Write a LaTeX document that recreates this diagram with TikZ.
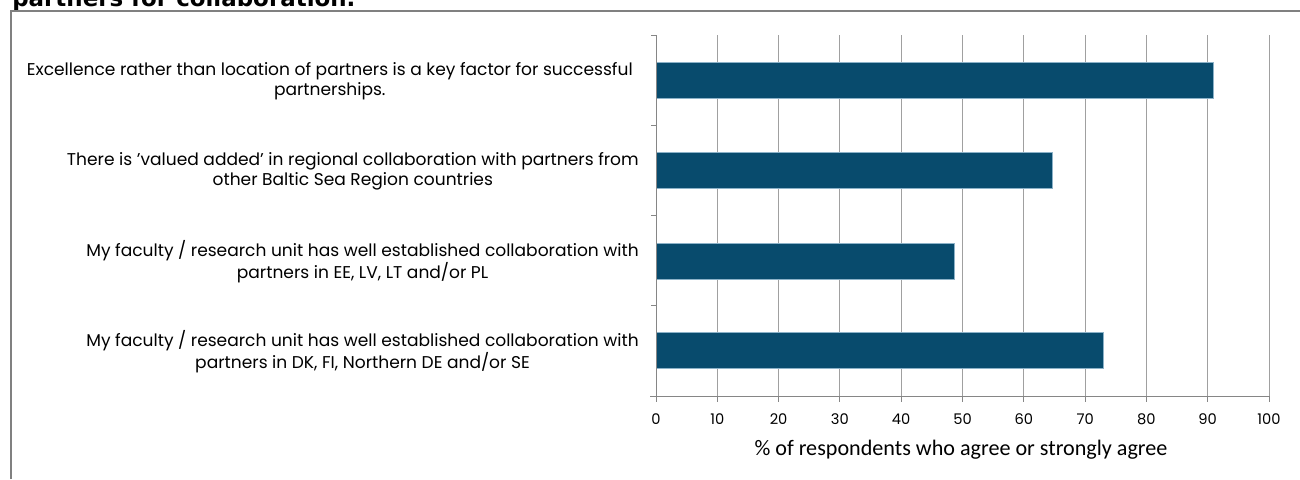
\documentclass[tikz,border=0pt]{standalone}
\usepackage{fontspec}
\setmainfont{Poppins}
\newfontfamily\axisfont{Carlito}
\newfontfamily\titlefont{DejaVu Sans}
\usetikzlibrary{positioning}
\definecolor{barblue}{RGB}{8,75,109}
\definecolor{baredge}{RGB}{140,178,200}
\definecolor{gridgray}{RGB}{160,160,160}
\definecolor{axisgray}{RGB}{134,134,134}
\definecolor{framegray}{RGB}{128,128,128}

\begin{document}
\begin{tikzpicture}[x=0.75pt, y=-0.75pt,
  bar/.style={fill=barblue, draw=baredge, line width=0.5pt},
  grid/.style={draw=gridgray, line width=0.75pt},
  axis/.style={draw=axisgray, line width=0.75pt},
  frame/.style={draw=framegray, line width=1.5pt},
  cat/.style={anchor=east, align=center, inner sep=0pt, font=\fontsize{12.8}{15}\selectfont},
  ticklbl/.style={anchor=base, inner sep=0pt, font=\fontsize{11}{13}\selectfont},
  axistitle/.style={anchor=base, inner sep=0pt, font=\axisfont\fontsize{16.6}{20}\selectfont}]
  \clip (0,0) rectangle (1300,479);

  % title and frame
  \node[anchor=base west, inner sep=0pt, font=\titlefont\bfseries\fontsize{17.2}{20}\selectfont] (title) at (12,6) {partners for collaboration.};
  \draw[frame] (11,479) -- (11,11) -- (1300,11);

  % gridlines
  \foreach \v in {10,20,...,100}
    \draw[grid] ({656+6.13*\v},35) -- ({656+6.13*\v},396);

  % bars
  \draw[bar] (656,62.3) rectangle ({656+6.13*90.9},98.3);
  \draw[bar] (656,152.7) rectangle ({656+6.13*64.7},188.3);
  \draw[bar] (656,243.3) rectangle ({656+6.13*48.7},279);
  \draw[bar] (656,332.3) rectangle ({656+6.13*72.9},368.3);

  % axes and ticks
  \draw[axis] (656,35) -- (656,396);
  \draw[axis] (650,396) -- (1270,396);
  \foreach \y in {35,125.25,215.5,305.75,396}
    \draw[axis] (651,\y) -- (656,\y);
  \foreach \v in {0,10,...,100} {
    \draw[axis] ({656+6.13*\v},396) -- ({656+6.13*\v},401.5);
    \node[ticklbl] (t\v) at ({656+6.13*\v},424) {\v};
  }
  \node[axistitle] (xtitle) at (961,455) {\% of respondents who agree or strongly agree};

  % category labels
  \node[cat] (c1) at (633,81) {Excellence rather than location of partners is a key factor for successful\\partnerships.};
  \node[cat] (c2) at (639,171.5) {There is 'valued added' in regional collaboration with partners from\\other Baltic Sea Region countries};
  \node[cat] (c3) at (639,261.6) {My faculty / research unit has well established collaboration with\\partners in EE, LV, LT and/or PL};
  \node[cat] (c4) at (639,351.9) {My faculty / research unit has well established collaboration with\\partners in DK, FI, Northern DE and/or SE};

\end{tikzpicture}
\end{document}
